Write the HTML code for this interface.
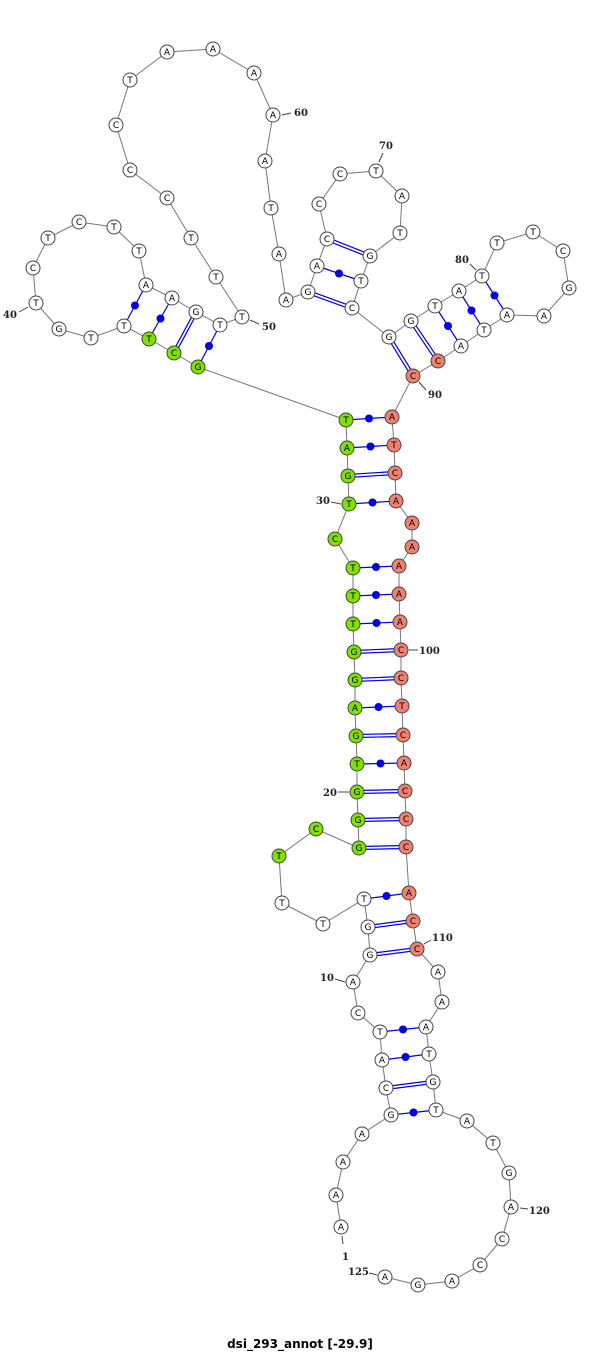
<!DOCTYPE html>
<html><head><meta charset="utf-8"><style>
html,body{margin:0;padding:0;background:#fff}
svg{display:block}
.n circle{stroke:#444;stroke-width:1;fill:#fff}
.n text{font-family:"DejaVu Sans","Liberation Sans",sans-serif;font-size:9px;text-anchor:middle;fill:#000}
.g circle{fill:#80e000}
.r circle{fill:#f08070}
.lb{font-family:"DejaVu Serif","Liberation Serif",serif;font-size:10px;font-weight:bold;fill:#222}
.p{stroke:#0000e0;stroke-width:1.2}
.d{fill:#0000e0}
.title{font-family:"DejaVu Sans","Liberation Sans",sans-serif;font-size:12px;font-weight:bold;fill:#000}
</style></head><body>
<svg width="600" height="1353" viewBox="0 0 600 1353">
<polyline fill="none" stroke="#777" stroke-width="1" points="341,1227 336,1195 343,1162 362,1134 391,1115 386,1088 382,1060 380,1032 358,1013 353,982 370,955 368,927 364,899 323,924 282,903 279,856 316,829 359,848 358,820 357,792 357,764 356,736 355,708 355,680 354,652 353,624 353,596 353,568 335,539 349,504 348,476 347,448 346,420 198,367 174,353 149,339 124,326 91,338 59,329 36,303 33,268 48,238 79,222 114,227 139,251 146,285 172,298 196,312 220,325 242,317 216,277 191,238 167,198 130,170 116,125 130,80 167,52 213,49 254,73 273,115 265,161 271,208 279,254 286,300 308,292 317,266 327,239 319,204 340,174 376,171 402,196 400,233 370,256 361,281 352,308 389,337 411,321 435,306 459,291 482,276 497,243 533,232 563,251 569,288 544,316 507,315 484,330 461,346 438,361 413,376 392,417 394,445 395,473 396,501 412,523 412,547 399,566 399,594 400,622 401,650 401,678 402,706 403,735 404,763 405,791 406,819 406,847 409,893 413,921 417,949 438,972 442,1002 426,1027 429,1054 433,1082 436,1110 467,1121 493,1143 509,1173 511,1207 502,1239 480,1265 452,1281 418,1285 385,1277"/>
<g class="p">
<line x1="391" y1="1115" x2="436" y2="1110"/><line x1="382" y1="1060" x2="429" y2="1054"/><line x1="380" y1="1032" x2="426" y2="1027"/>
<line x1="364" y1="899" x2="409" y2="893"/><line x1="357" y1="764" x2="404" y2="763"/><line x1="355" y1="708" x2="402" y2="706"/>
<line x1="353" y1="624" x2="400" y2="622"/><line x1="353" y1="596" x2="399" y2="594"/><line x1="353" y1="568" x2="399" y2="566"/>
<line x1="349" y1="504" x2="396" y2="501"/><line x1="347" y1="448" x2="394" y2="445"/><line x1="346" y1="420" x2="392" y2="417"/>
<line x1="198" y1="367" x2="220" y2="325"/><line x1="149" y1="339" x2="172" y2="298"/><line x1="124" y1="326" x2="146" y2="285"/>
<line x1="317" y1="266" x2="361" y2="281"/><line x1="435" y1="306" x2="461" y2="346"/><line x1="459" y1="291" x2="484" y2="330"/><line x1="482" y1="276" x2="507" y2="315"/>
<line x1="386" y1="1086.5" x2="433" y2="1080.5"/><line x1="386" y1="1089.5" x2="433" y2="1083.5"/>
<line x1="370" y1="953.5" x2="417" y2="947.5"/><line x1="370" y1="956.5" x2="417" y2="950.5"/>
<line x1="368" y1="925.5" x2="413" y2="919.5"/><line x1="368" y1="928.5" x2="413" y2="922.5"/>
<line x1="359" y1="846.5" x2="406" y2="845.5"/><line x1="359" y1="849.5" x2="406" y2="848.5"/>
<line x1="358" y1="818.5" x2="406" y2="817.5"/><line x1="358" y1="821.5" x2="406" y2="820.5"/>
<line x1="357" y1="790.5" x2="405" y2="789.5"/><line x1="357" y1="793.5" x2="405" y2="792.5"/>
<line x1="356" y1="734.5" x2="403" y2="733.5"/><line x1="356" y1="737.5" x2="403" y2="736.5"/>
<line x1="355" y1="678.5" x2="401" y2="676.5"/><line x1="355" y1="681.5" x2="401" y2="679.5"/>
<line x1="354" y1="650.5" x2="401" y2="648.5"/><line x1="354" y1="653.5" x2="401" y2="651.5"/>
<line x1="348" y1="474.5" x2="395" y2="471.5"/><line x1="348" y1="477.5" x2="395" y2="474.5"/>
<line x1="172.7" y1="352.3" x2="194.7" y2="311.3"/><line x1="175.3" y1="353.7" x2="197.3" y2="312.7"/>
<line x1="308.5" y1="290.6" x2="352.5" y2="306.6"/><line x1="307.5" y1="293.4" x2="351.5" y2="309.4"/>
<line x1="327.5" y1="237.6" x2="370.5" y2="254.6"/><line x1="326.5" y1="240.4" x2="369.5" y2="257.4"/>
<line x1="387.7" y1="337.8" x2="411.7" y2="376.8"/><line x1="390.3" y1="336.2" x2="414.3" y2="375.2"/>
<line x1="409.7" y1="321.8" x2="436.7" y2="361.8"/><line x1="412.3" y1="320.2" x2="439.3" y2="360.2"/>
</g>
<g class="d">
<circle cx="413.5" cy="1112.5" r="4"/><circle cx="405.5" cy="1057" r="4"/><circle cx="403" cy="1029.5" r="4"/>
<circle cx="386.5" cy="896" r="4"/><circle cx="380.5" cy="763.5" r="4"/><circle cx="378.5" cy="707" r="4"/>
<circle cx="376.5" cy="623" r="4"/><circle cx="376" cy="595" r="4"/><circle cx="376" cy="567" r="4"/>
<circle cx="372.5" cy="502.5" r="4"/><circle cx="370.5" cy="446.5" r="4"/><circle cx="369" cy="418.5" r="4"/>
<circle cx="209" cy="346" r="4"/><circle cx="160.5" cy="318.5" r="4"/><circle cx="135" cy="305.5" r="4"/>
<circle cx="339" cy="273.5" r="4"/><circle cx="448" cy="326" r="4"/><circle cx="471.5" cy="310.5" r="4"/><circle cx="494.5" cy="295.5" r="4"/>
</g>
<g class="n">
<g><circle cx="341" cy="1227" r="7"/><text x="341" y="1230">A</text></g>
<g><circle cx="336" cy="1195" r="7"/><text x="336" y="1198">A</text></g>
<g><circle cx="343" cy="1162" r="7"/><text x="343" y="1165">A</text></g>
<g><circle cx="362" cy="1134" r="7"/><text x="362" y="1137">A</text></g>
<g><circle cx="391" cy="1115" r="7"/><text x="391" y="1118">G</text></g>
<g><circle cx="386" cy="1088" r="7"/><text x="386" y="1091">C</text></g>
<g><circle cx="382" cy="1060" r="7"/><text x="382" y="1063">A</text></g>
<g><circle cx="380" cy="1032" r="7"/><text x="380" y="1035">T</text></g>
<g><circle cx="358" cy="1013" r="7"/><text x="358" y="1016">C</text></g>
<g><circle cx="353" cy="982" r="7"/><text x="353" y="985">A</text></g>
<g><circle cx="370" cy="955" r="7"/><text x="370" y="958">G</text></g>
<g><circle cx="368" cy="927" r="7"/><text x="368" y="930">G</text></g>
<g><circle cx="364" cy="899" r="7"/><text x="364" y="902">T</text></g>
<g><circle cx="323" cy="924" r="7"/><text x="323" y="927">T</text></g>
<g><circle cx="282" cy="903" r="7"/><text x="282" y="906">T</text></g>
<g class="g"><circle cx="279" cy="856" r="7"/><text x="279" y="859">T</text></g>
<g class="g"><circle cx="316" cy="829" r="7"/><text x="316" y="832">C</text></g>
<g class="g"><circle cx="359" cy="848" r="7"/><text x="359" y="851">G</text></g>
<g class="g"><circle cx="358" cy="820" r="7"/><text x="358" y="823">G</text></g>
<g class="g"><circle cx="357" cy="792" r="7"/><text x="357" y="795">G</text></g>
<g class="g"><circle cx="357" cy="764" r="7"/><text x="357" y="767">T</text></g>
<g class="g"><circle cx="356" cy="736" r="7"/><text x="356" y="739">G</text></g>
<g class="g"><circle cx="355" cy="708" r="7"/><text x="355" y="711">A</text></g>
<g class="g"><circle cx="355" cy="680" r="7"/><text x="355" y="683">G</text></g>
<g class="g"><circle cx="354" cy="652" r="7"/><text x="354" y="655">G</text></g>
<g class="g"><circle cx="353" cy="624" r="7"/><text x="353" y="627">T</text></g>
<g class="g"><circle cx="353" cy="596" r="7"/><text x="353" y="599">T</text></g>
<g class="g"><circle cx="353" cy="568" r="7"/><text x="353" y="571">T</text></g>
<g class="g"><circle cx="335" cy="539" r="7"/><text x="335" y="542">C</text></g>
<g class="g"><circle cx="349" cy="504" r="7"/><text x="349" y="507">T</text></g>
<g class="g"><circle cx="348" cy="476" r="7"/><text x="348" y="479">G</text></g>
<g class="g"><circle cx="347" cy="448" r="7"/><text x="347" y="451">A</text></g>
<g class="g"><circle cx="346" cy="420" r="7"/><text x="346" y="423">T</text></g>
<g class="g"><circle cx="198" cy="367" r="7"/><text x="198" y="370">G</text></g>
<g class="g"><circle cx="174" cy="353" r="7"/><text x="174" y="356">C</text></g>
<g class="g"><circle cx="149" cy="339" r="7"/><text x="149" y="342">T</text></g>
<g><circle cx="124" cy="326" r="7"/><text x="124" y="329">T</text></g>
<g><circle cx="91" cy="338" r="7"/><text x="91" y="341">T</text></g>
<g><circle cx="59" cy="329" r="7"/><text x="59" y="332">G</text></g>
<g><circle cx="36" cy="303" r="7"/><text x="36" y="306">T</text></g>
<g><circle cx="33" cy="268" r="7"/><text x="33" y="271">C</text></g>
<g><circle cx="48" cy="238" r="7"/><text x="48" y="241">T</text></g>
<g><circle cx="79" cy="222" r="7"/><text x="79" y="225">C</text></g>
<g><circle cx="114" cy="227" r="7"/><text x="114" y="230">T</text></g>
<g><circle cx="139" cy="251" r="7"/><text x="139" y="254">T</text></g>
<g><circle cx="146" cy="285" r="7"/><text x="146" y="288">A</text></g>
<g><circle cx="172" cy="298" r="7"/><text x="172" y="301">A</text></g>
<g><circle cx="196" cy="312" r="7"/><text x="196" y="315">G</text></g>
<g><circle cx="220" cy="325" r="7"/><text x="220" y="328">T</text></g>
<g><circle cx="242" cy="317" r="7"/><text x="242" y="320">T</text></g>
<g><circle cx="216" cy="277" r="7"/><text x="216" y="280">T</text></g>
<g><circle cx="191" cy="238" r="7"/><text x="191" y="241">T</text></g>
<g><circle cx="167" cy="198" r="7"/><text x="167" y="201">C</text></g>
<g><circle cx="130" cy="170" r="7"/><text x="130" y="173">C</text></g>
<g><circle cx="116" cy="125" r="7"/><text x="116" y="128">C</text></g>
<g><circle cx="130" cy="80" r="7"/><text x="130" y="83">T</text></g>
<g><circle cx="167" cy="52" r="7"/><text x="167" y="55">A</text></g>
<g><circle cx="213" cy="49" r="7"/><text x="213" y="52">A</text></g>
<g><circle cx="254" cy="73" r="7"/><text x="254" y="76">A</text></g>
<g><circle cx="273" cy="115" r="7"/><text x="273" y="118">A</text></g>
<g><circle cx="265" cy="161" r="7"/><text x="265" y="164">A</text></g>
<g><circle cx="271" cy="208" r="7"/><text x="271" y="211">T</text></g>
<g><circle cx="279" cy="254" r="7"/><text x="279" y="257">A</text></g>
<g><circle cx="286" cy="300" r="7"/><text x="286" y="303">A</text></g>
<g><circle cx="308" cy="292" r="7"/><text x="308" y="295">G</text></g>
<g><circle cx="317" cy="266" r="7"/><text x="317" y="269">A</text></g>
<g><circle cx="327" cy="239" r="7"/><text x="327" y="242">C</text></g>
<g><circle cx="319" cy="204" r="7"/><text x="319" y="207">C</text></g>
<g><circle cx="340" cy="174" r="7"/><text x="340" y="177">C</text></g>
<g><circle cx="376" cy="171" r="7"/><text x="376" y="174">T</text></g>
<g><circle cx="402" cy="196" r="7"/><text x="402" y="199">A</text></g>
<g><circle cx="400" cy="233" r="7"/><text x="400" y="236">T</text></g>
<g><circle cx="370" cy="256" r="7"/><text x="370" y="259">G</text></g>
<g><circle cx="361" cy="281" r="7"/><text x="361" y="284">T</text></g>
<g><circle cx="352" cy="308" r="7"/><text x="352" y="311">C</text></g>
<g><circle cx="389" cy="337" r="7"/><text x="389" y="340">G</text></g>
<g><circle cx="411" cy="321" r="7"/><text x="411" y="324">G</text></g>
<g><circle cx="435" cy="306" r="7"/><text x="435" y="309">T</text></g>
<g><circle cx="459" cy="291" r="7"/><text x="459" y="294">A</text></g>
<g><circle cx="482" cy="276" r="7"/><text x="482" y="279">T</text></g>
<g><circle cx="497" cy="243" r="7"/><text x="497" y="246">T</text></g>
<g><circle cx="533" cy="232" r="7"/><text x="533" y="235">T</text></g>
<g><circle cx="563" cy="251" r="7"/><text x="563" y="254">C</text></g>
<g><circle cx="569" cy="288" r="7"/><text x="569" y="291">G</text></g>
<g><circle cx="544" cy="316" r="7"/><text x="544" y="319">A</text></g>
<g><circle cx="507" cy="315" r="7"/><text x="507" y="318">A</text></g>
<g><circle cx="484" cy="330" r="7"/><text x="484" y="333">T</text></g>
<g><circle cx="461" cy="346" r="7"/><text x="461" y="349">A</text></g>
<g class="r"><circle cx="438" cy="361" r="7"/><text x="438" y="364">C</text></g>
<g class="r"><circle cx="413" cy="376" r="7"/><text x="413" y="379">C</text></g>
<g class="r"><circle cx="392" cy="417" r="7"/><text x="392" y="420">A</text></g>
<g class="r"><circle cx="394" cy="445" r="7"/><text x="394" y="448">T</text></g>
<g class="r"><circle cx="395" cy="473" r="7"/><text x="395" y="476">C</text></g>
<g class="r"><circle cx="396" cy="501" r="7"/><text x="396" y="504">A</text></g>
<g class="r"><circle cx="412" cy="523" r="7"/><text x="412" y="526">A</text></g>
<g class="r"><circle cx="412" cy="547" r="7"/><text x="412" y="550">A</text></g>
<g class="r"><circle cx="399" cy="566" r="7"/><text x="399" y="569">A</text></g>
<g class="r"><circle cx="399" cy="594" r="7"/><text x="399" y="597">A</text></g>
<g class="r"><circle cx="400" cy="622" r="7"/><text x="400" y="625">A</text></g>
<g class="r"><circle cx="401" cy="650" r="7"/><text x="401" y="653">C</text></g>
<g class="r"><circle cx="401" cy="678" r="7"/><text x="401" y="681">C</text></g>
<g class="r"><circle cx="402" cy="706" r="7"/><text x="402" y="709">T</text></g>
<g class="r"><circle cx="403" cy="735" r="7"/><text x="403" y="738">C</text></g>
<g class="r"><circle cx="404" cy="763" r="7"/><text x="404" y="766">A</text></g>
<g class="r"><circle cx="405" cy="791" r="7"/><text x="405" y="794">C</text></g>
<g class="r"><circle cx="406" cy="819" r="7"/><text x="406" y="822">C</text></g>
<g class="r"><circle cx="406" cy="847" r="7"/><text x="406" y="850">C</text></g>
<g class="r"><circle cx="409" cy="893" r="7"/><text x="409" y="896">A</text></g>
<g class="r"><circle cx="413" cy="921" r="7"/><text x="413" y="924">C</text></g>
<g class="r"><circle cx="417" cy="949" r="7"/><text x="417" y="952">C</text></g>
<g><circle cx="438" cy="972" r="7"/><text x="438" y="975">A</text></g>
<g><circle cx="442" cy="1002" r="7"/><text x="442" y="1005">A</text></g>
<g><circle cx="426" cy="1027" r="7"/><text x="426" y="1030">A</text></g>
<g><circle cx="429" cy="1054" r="7"/><text x="429" y="1057">T</text></g>
<g><circle cx="433" cy="1082" r="7"/><text x="433" y="1085">G</text></g>
<g><circle cx="436" cy="1110" r="7"/><text x="436" y="1113">T</text></g>
<g><circle cx="467" cy="1121" r="7"/><text x="467" y="1124">A</text></g>
<g><circle cx="493" cy="1143" r="7"/><text x="493" y="1146">T</text></g>
<g><circle cx="509" cy="1173" r="7"/><text x="509" y="1176">G</text></g>
<g><circle cx="511" cy="1207" r="7"/><text x="511" y="1210">A</text></g>
<g><circle cx="502" cy="1239" r="7"/><text x="502" y="1242">C</text></g>
<g><circle cx="480" cy="1265" r="7"/><text x="480" y="1268">C</text></g>
<g><circle cx="452" cy="1281" r="7"/><text x="452" y="1284">A</text></g>
<g><circle cx="418" cy="1285" r="7"/><text x="418" y="1288">G</text></g>
<g><circle cx="385" cy="1277" r="7"/><text x="385" y="1280">A</text></g>
</g>
<g stroke="#444" stroke-width="1">
<line x1="282" y1="115" x2="291" y2="113"/><line x1="383" y1="153" x2="379" y2="162"/>
<line x1="470" y1="264" x2="476" y2="270"/><line x1="19" y1="312" x2="28" y2="307"/>
<line x1="250" y1="320" x2="259" y2="324"/><line x1="419" y1="382" x2="426" y2="390"/>
<line x1="331" y1="502" x2="341" y2="504"/><line x1="409" y1="650" x2="418" y2="650"/>
<line x1="338" y1="792" x2="349" y2="792"/><line x1="424" y1="944" x2="431" y2="940"/>
<line x1="335" y1="979" x2="345" y2="982"/><line x1="520" y1="1208" x2="528" y2="1209"/>
<line x1="342" y1="1236" x2="343" y2="1244"/><line x1="369" y1="1273" x2="377" y2="1275"/>
</g>
<g class="lb">
<text x="294" y="116">60</text><text x="379" y="149">70</text><text x="455" y="263">80</text>
<text x="3" y="318">40</text><text x="262" y="330">50</text><text x="428" y="398">90</text>
<text x="316" y="504">30</text><text x="419" y="654">100</text><text x="323" y="796">20</text>
<text x="432" y="941">110</text><text x="320" y="981">10</text><text x="529" y="1214">120</text>
<text x="342" y="1260">1</text><text x="348" y="1275">125</text>
</g>
<text class="title" x="300" y="1348" text-anchor="middle">dsi_293_annot [-29.9]</text>
</svg>
</body></html>
